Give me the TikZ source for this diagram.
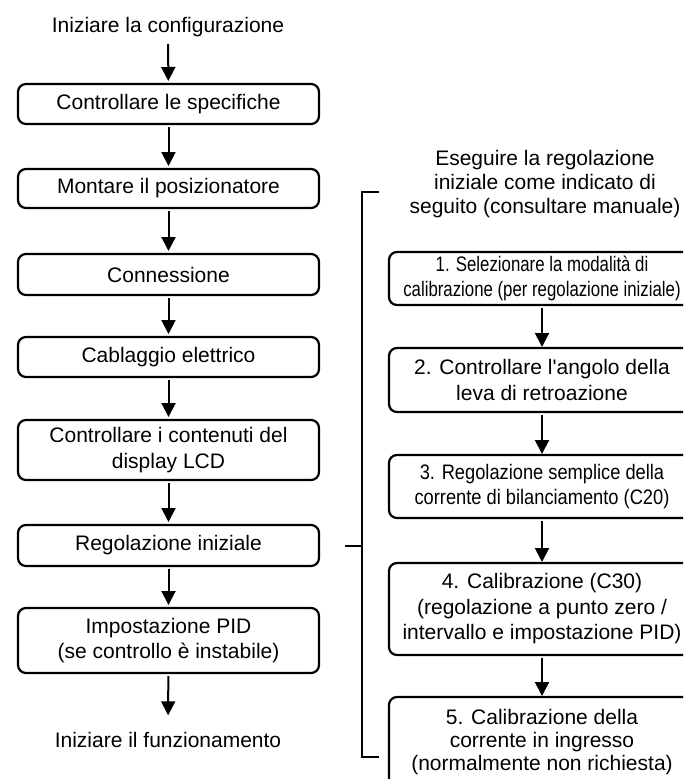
\documentclass[tikz,border=0pt]{standalone}
\usepackage{fontspec}
\setmainfont{Liberation Sans}
\newfontfamily\narrowfont[FakeStretch=0.8]{Liberation Sans}
\newfontfamily\semifont[FakeStretch=0.87]{Liberation Sans}
\usetikzlibrary{arrows.meta}

\begin{document}
\begin{tikzpicture}[
  x=1pt, y=-1pt,
  font=\fontsize{21}{25.5}\selectfont,
  every node/.style={inner sep=0pt, outer sep=0pt},
  stepbox/.style={draw, line width=2.2pt, rounded corners=8pt, align=center, minimum width=301pt},
  subbox/.style={stepbox, minimum width=306pt},
  endtext/.style={inner sep=4pt},
  flow/.style={line width=2pt, -{Triangle[width=14pt,length=14pt]}, shorten <=3pt, shorten >=3pt},
  bracket/.style={line width=2pt},
]
\useasboundingbox (0,0) rectangle (683,779);
\clip (0,0) rectangle (683,779);

% ── main sequence ──
\node[endtext] (start) at (168,27) {Iniziare la configurazione};
\node[stepbox, minimum height=40pt] (b1) at (168.5,104) {Controllare le specifiche};
\node[stepbox, minimum height=39pt] (b2) at (168.5,188.5) {Montare il posizionatore};
\node[stepbox, minimum height=41pt] (b3) at (168.5,274.5) {Connessione};
\node[stepbox, minimum height=40pt] (b4) at (168.5,357) {Cablaggio elettrico};
\node[stepbox, minimum height=60pt] (b5) at (168.5,450) {Controllare i contenuti del\\display LCD};
\node[stepbox, minimum height=41pt] (b6) at (168.5,545.5) {Regolazione iniziale};
\node[stepbox, minimum height=65pt] (b7) at (168.5,640.5) {Impostazione PID\\(se controllo è instabile)};
\node[endtext] (finish) at (168,740) {Iniziare il funzionamento};

\draw[flow] (start) -- (b1);
\draw[flow] (b1) -- (b2);
\draw[flow] (b2) -- (b3);
\draw[flow] (b3) -- (b4);
\draw[flow] (b4) -- (b5);
\draw[flow] (b5) -- (b6);
\draw[flow] (b6) -- (b7);
\draw[flow, shorten >=13pt] (b7) -- (finish);

% ── initial adjustment detail ──
\node[align=center, font=\fontsize{21}{24}\selectfont] (note) at (545,184)
  {Eseguire la regolazione\\iniziale come indicato di\\seguito (consultare manuale)};
\node[subbox, minimum height=53pt, font=\narrowfont\fontsize{21}{25.5}\selectfont] (s1) at (542,278.5)
  {1. Selezionare la modalità di\\calibrazione (per regolazione iniziale)};
\node[subbox, minimum height=64pt] (s2) at (542,380) {2. Controllare l\textquotesingle angolo della\\leva di retroazione};
\node[subbox, minimum height=63pt, font=\semifont\fontsize{21}{25.5}\selectfont] (s3) at (542,486.5)
  {3. Regolazione semplice della\\corrente di bilanciamento (C20)};
\node[subbox, minimum height=92pt] (s4) at (542,609)
  {4. Calibrazione (C30)\\ (regolazione a punto zero /\\intervallo e impostazione PID)};
\node[subbox, minimum height=90pt, font=\fontsize{21}{23}\selectfont] (s5) at (542,742)
  {5. Calibrazione della\\corrente in ingresso\\(normalmente non richiesta)};

\draw[flow, shorten >=1pt] (s1) -- (s2);
\draw[flow, shorten >=1pt] (s2) -- (s3);
\draw[flow, shorten >=1pt] (s3) -- (s4);
\draw[flow, shorten >=1pt] (s4) -- (s5);

% ── bracket ──
\coordinate (bktop) at (379,192);
\coordinate (bkbot) at (379,757);
\draw[bracket] (bktop) -- ++(-17,0) |- (bkbot);
\draw[bracket] ([xshift=26pt]b6.east) -- ++(17.5,0);

\end{tikzpicture}
\end{document}
